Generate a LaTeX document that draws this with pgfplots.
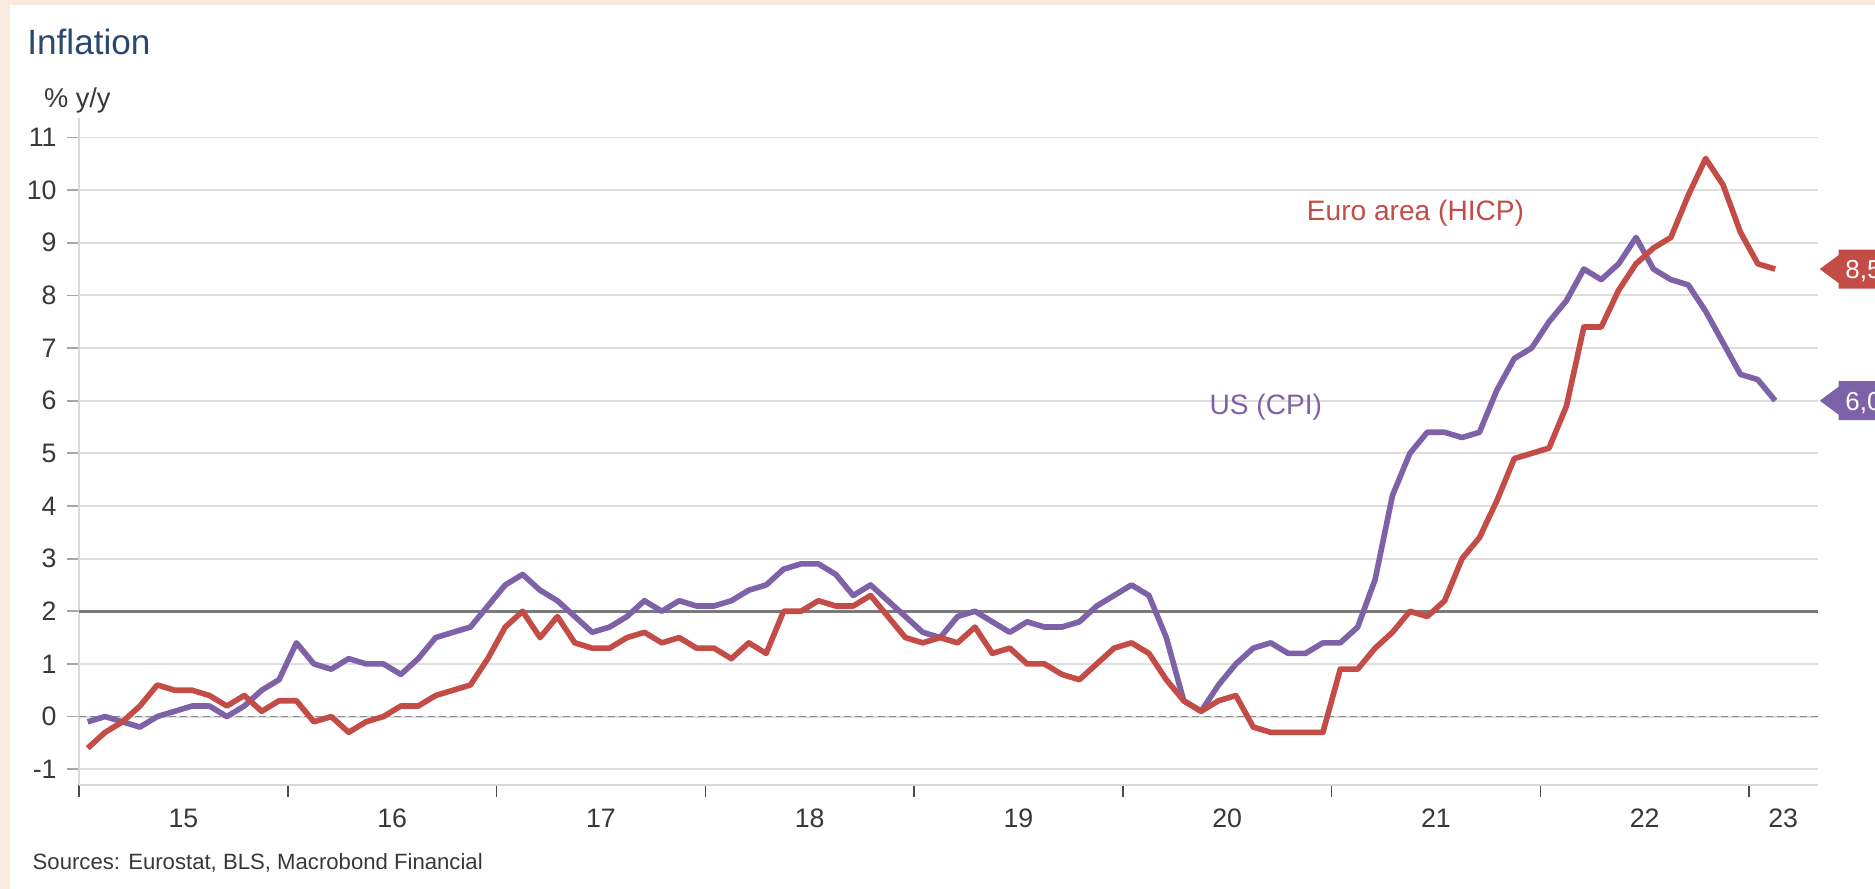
\documentclass[border=0pt]{standalone}
\usepackage{pgfplots}
\pgfplotsset{compat=1.18}
\usepackage{pgfplotstable}
\usepackage{fontspec}
\setmainfont{Liberation Sans}
\definecolor{eured}{RGB}{196,76,70}
\definecolor{uspurple}{RGB}{126,98,168}
\definecolor{titleblue}{RGB}{42,72,112}
\definecolor{peach}{RGB}{250,233,223}
\definecolor{txtgray}{RGB}{56,56,56}

% m = month number (1 = Jan 2015)
\pgfplotstableread{
m eu us
1 -0.6 -0.1
2 -0.3 0.0
3 -0.1 -0.1
4 0.2 -0.2
5 0.6 0.0
6 0.5 0.1
7 0.5 0.2
8 0.4 0.2
9 0.2 0.0
10 0.4 0.2
11 0.1 0.5
12 0.3 0.7
13 0.3 1.4
14 -0.1 1.0
15 0.0 0.9
16 -0.3 1.1
17 -0.1 1.0
18 0.0 1.0
19 0.2 0.8
20 0.2 1.1
21 0.4 1.5
22 0.5 1.6
23 0.6 1.7
24 1.1 2.1
25 1.7 2.5
26 2.0 2.7
27 1.5 2.4
28 1.9 2.2
29 1.4 1.9
30 1.3 1.6
31 1.3 1.7
32 1.5 1.9
33 1.6 2.2
34 1.4 2.0
35 1.5 2.2
36 1.3 2.1
37 1.3 2.1
38 1.1 2.2
39 1.4 2.4
40 1.2 2.5
41 2.0 2.8
42 2.0 2.9
43 2.2 2.9
44 2.1 2.7
45 2.1 2.3
46 2.3 2.5
47 1.9 2.2
48 1.5 1.9
49 1.4 1.6
50 1.5 1.5
51 1.4 1.9
52 1.7 2.0
53 1.2 1.8
54 1.3 1.6
55 1.0 1.8
56 1.0 1.7
57 0.8 1.7
58 0.7 1.8
59 1.0 2.1
60 1.3 2.3
61 1.4 2.5
62 1.2 2.3
63 0.7 1.5
64 0.3 0.3
65 0.1 0.1
66 0.3 0.6
67 0.4 1.0
68 -0.2 1.3
69 -0.3 1.4
70 -0.3 1.2
71 -0.3 1.2
72 -0.3 1.4
73 0.9 1.4
74 0.9 1.7
75 1.3 2.6
76 1.6 4.2
77 2.0 5.0
78 1.9 5.4
79 2.2 5.4
80 3.0 5.3
81 3.4 5.4
82 4.1 6.2
83 4.9 6.8
84 5.0 7.0
85 5.1 7.5
86 5.9 7.9
87 7.4 8.5
88 7.4 8.3
89 8.1 8.6
90 8.6 9.1
91 8.9 8.5
92 9.1 8.3
93 9.9 8.2
94 10.6 7.7
95 10.1 7.1
96 9.2 6.5
97 8.6 6.4
98 8.5 6.0
}\infl

\begin{document}
\begin{tikzpicture}
\useasboundingbox (0,0) rectangle (18.75,8.89);
\clip (0,0) rectangle (18.75,8.89);
\fill[peach] (0,0) rectangle (18.75,8.89);
\fill[white] (0.10,-0.1) rectangle (18.85,8.84);
\node[anchor=base west, inner sep=0, text=titleblue, font=\fontsize{10}{12}\selectfont] at (0.267,8.34) {Inflation};
\node[anchor=base west, inner sep=0, text=txtgray, font=\fontsize{7.75}{9}\selectfont] at (0.433,7.81) {\%~y/y};
\node[anchor=base west, inner sep=0, text=txtgray, font=\fontsize{6.3}{8}\selectfont] at (0.32,0.19) {Sources: Eurostat, BLS, Macrobond Financial};
\begin{axis}[
  at={(0.79cm,1.04cm)}, anchor=south west,
  scale only axis, width=17.39cm, height=6.67cm,
  xmin=0, xmax=8.33, ymin=-1.3, ymax=11.37,
  axis lines=left,
  axis line style={-, draw=black!15, line width=0.6pt},
  clip=false,
  ytick={-1,0,...,11},
  ymajorgrids,
  grid style={draw=black!13, line width=0.55pt},
  xtick={0,1,...,8},
  xticklabels={},
  extra x ticks={0.5,1.5,2.5,3.5,4.5,5.5,6.5,7.5,8.163},
  extra x tick labels={15,16,17,18,19,20,21,22,23},
  extra x tick style={major tick length=0pt, tick style={draw=none}},
  tick align=outside,
  major tick length=0.12cm,
  x tick style={draw=black!70, line width=0.45pt},
  y tick style={draw=black!35, line width=0.5pt},
  tick label style={text=txtgray, font=\fontsize{7.6}{9}\selectfont},
  x tick label style={anchor=base, yshift=-0.43cm},
  y tick label style={xshift=0.02cm},
  /pgf/number format/assume math mode=true,
]
\addplot[draw=black!45, line width=0.4pt, dash pattern=on 2pt off 1.2pt, forget plot] coordinates {(0,0) (8.33,0)};
\addplot[draw=black!52, line width=0.85pt, forget plot] coordinates {(0,2) (8.33,2)};
\addplot[uspurple, line width=1.6pt, line join=round] table[x expr=(\thisrow{m}-0.5)/12, y=us]{\infl};
\addplot[eured, line width=1.6pt, line join=round] table[x expr=(\thisrow{m}-0.5)/12, y=eu]{\infl};
\node[anchor=base, inner sep=0, text=eured, font=\fontsize{8}{10}\selectfont] at (axis cs:6.402,9.418) {Euro area (HICP)};
\node[anchor=base, inner sep=0, text=uspurple, font=\fontsize{8}{10}\selectfont] at (axis cs:5.685,5.73) {US (CPI)};
\coordinate (tagEU) at (axis cs:8.338,8.5);
\coordinate (tagUS) at (axis cs:8.338,6.0);
\end{axis}
\fill[eured] (tagEU) -- ++(0.19,0.14) -- ++(0,0.055) -- ++(0.9,0) -- ++(0,-0.39) -- ++(-0.9,0) -- ++(0,0.055) -- cycle;
\node[anchor=base west, inner sep=0, text=white, font=\fontsize{7.4}{9}\selectfont] at ([xshift=0.25cm,yshift=-0.095cm]tagEU) {8,5};
\fill[uspurple] (tagUS) -- ++(0.19,0.14) -- ++(0,0.055) -- ++(0.9,0) -- ++(0,-0.39) -- ++(-0.9,0) -- ++(0,0.055) -- cycle;
\node[anchor=base west, inner sep=0, text=white, font=\fontsize{7.4}{9}\selectfont] at ([xshift=0.25cm,yshift=-0.095cm]tagUS) {6,0};
\end{tikzpicture}
\end{document}
